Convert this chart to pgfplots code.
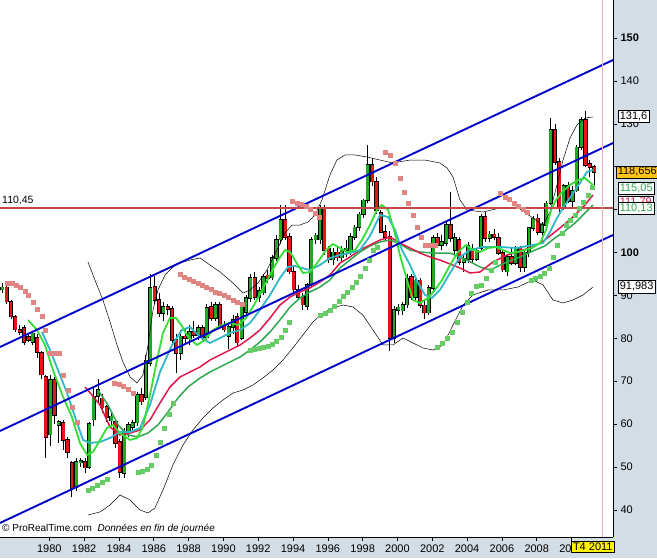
\documentclass[border=0pt]{standalone}
\usepackage{pgfplots}
\pgfplotsset{compat=1.18}
\usepackage{pgfplotstable}
\usepackage{fontspec}
\setmainfont{Liberation Sans}
\definecolor{panel}{HTML}{D3DDE6}
\definecolor{chan}{HTML}{0000CC}
\definecolor{hline}{HTML}{C44848}
\definecolor{cgreen}{HTML}{22A822}
\definecolor{cred}{HTML}{E01818}
\definecolor{malg}{HTML}{33E033}
\definecolor{macy}{HTML}{30B8C8}
\definecolor{mared}{HTML}{E0184A}
\definecolor{madg}{HTML}{30A850}
\definecolor{sarp}{HTML}{E08484}
\definecolor{sarg}{HTML}{66CC66}
\definecolor{orangebox}{HTML}{FFC41C}
\definecolor{vline}{HTML}{F0B0B8}

\pgfplotstableread{
x o h l c
1977.30 91.3 93.0 90.5 91.9
1977.55 91.9 93.2 88.0 88.5
1977.80 88.5 89.0 84.5 85.0
1978.05 85.0 85.5 81.5 82.0
1978.30 82.0 83.0 80.8 81.5
1978.55 82.4 83.0 78.5 79.1
1978.80 80.3 81.0 79.2 79.6
1979.05 79.1 81.8 78.5 81.2
1979.30 80.1 81.0 75.5 76.8
1979.55 76.6 77.0 70.5 71.5
1979.80 71.0 71.5 52.1 57.0
1980.05 57.5 71.5 55.0 70.3
1980.30 70.3 71.0 60.0 62.1
1980.55 59.8 61.0 55.6 60.5
1980.80 60.3 61.0 54.0 56.3
1981.05 56.3 57.0 52.0 53.5
1981.30 50.9 51.5 43.0 45.1
1981.55 45.3 52.0 44.5 51.2
1981.80 51.0 52.0 50.0 51.5
1982.05 51.2 52.0 48.5 49.8
1982.30 50.0 60.5 49.5 60.0
1982.55 61.0 68.5 59.5 66.5
1982.80 66.5 70.5 65.0 68.0
1983.05 66.0 67.0 62.5 63.8
1983.30 64.0 64.5 60.5 61.6
1983.55 60.8 62.5 59.5 61.8
1983.80 60.5 61.0 54.5 55.6
1984.05 55.8 56.5 47.5 48.8
1984.30 48.6 59.0 47.5 58.2
1984.55 58.0 60.5 57.0 59.8
1984.80 59.3 61.0 58.5 60.3
1985.05 60.3 67.5 59.5 66.8
1985.30 66.8 68.5 64.5 65.2
1985.55 66.3 76.0 65.5 74.9
1985.80 74.2 95.0 73.5 91.7
1986.05 92.0 94.5 88.0 88.9
1986.30 88.9 90.5 85.0 85.9
1986.55 85.9 88.5 84.0 87.3
1986.80 87.3 88.0 85.5 86.8
1987.05 86.8 87.5 79.0 79.6
1987.30 79.6 81.0 72.0 76.5
1987.55 76.5 82.0 75.0 80.5
1987.80 80.5 82.5 79.0 80.0
1988.05 80.0 83.0 78.5 81.5
1988.30 81.5 84.0 80.0 80.8
1988.55 80.8 83.0 79.5 82.5
1988.80 82.5 83.0 79.5 80.3
1989.05 80.3 88.0 79.5 87.1
1989.30 87.3 88.5 84.0 84.7
1989.55 84.7 88.5 84.0 87.8
1989.80 87.8 88.5 82.5 83.1
1990.05 83.1 84.0 81.5 82.0
1990.30 80.5 83.5 77.5 82.6
1990.55 82.6 85.5 81.0 84.3
1990.80 85.0 86.0 78.0 79.0
1991.05 80.0 88.5 79.5 87.8
1991.30 86.1 90.0 85.5 89.4
1991.55 89.4 95.0 88.5 94.1
1991.80 94.1 95.5 89.0 89.6
1992.05 89.6 92.0 88.5 91.0
1992.30 90.6 95.0 90.0 94.3
1992.55 94.7 96.0 93.0 94.0
1992.80 94.1 99.5 93.5 98.7
1993.05 98.7 104.0 98.0 103.0
1993.30 103.0 111.0 102.0 107.6
1993.55 107.6 111.0 103.0 103.6
1993.80 103.6 104.5 95.0 95.5
1994.05 95.5 97.0 90.5 91.3
1994.30 91.3 92.5 89.0 89.6
1994.55 89.6 90.5 86.5 87.8
1994.80 87.5 93.0 86.5 92.5
1995.05 92.5 103.5 92.0 103.0
1995.30 103.0 104.5 102.0 104.0
1995.55 103.0 111.0 102.0 110.4
1995.80 110.4 111.0 99.5 100.6
1996.05 101.0 101.5 97.5 98.3
1996.30 98.3 101.0 97.0 100.0
1996.55 100.0 101.5 98.0 98.8
1996.80 98.8 101.5 97.5 100.5
1997.05 100.5 103.0 99.0 101.0
1997.30 100.0 104.5 99.5 103.6
1997.55 103.6 106.5 103.0 105.9
1997.80 105.9 109.5 105.0 108.9
1998.05 108.9 112.5 108.0 112.2
1998.30 112.2 125.0 111.5 120.4
1998.55 120.4 122.0 115.5 116.5
1998.80 116.5 117.5 109.0 109.8
1999.05 109.3 110.0 104.5 104.8
1999.30 104.8 106.5 103.0 103.6
1999.55 103.6 105.0 77.0 80.1
1999.80 80.1 87.5 79.0 86.6
2000.05 86.6 88.0 85.5 87.2
2000.30 86.4 88.5 85.5 87.8
2000.55 87.8 95.0 87.0 93.8
2000.80 94.3 95.0 89.0 89.6
2001.05 89.6 94.5 89.0 93.5
2001.30 93.5 94.0 87.0 87.7
2001.55 87.7 89.0 84.5 86.0
2001.80 86.0 92.5 85.5 91.7
2002.05 91.7 104.0 91.0 103.4
2002.30 103.4 104.5 101.0 101.7
2002.55 101.7 104.0 100.5 102.5
2002.80 102.2 107.0 101.5 106.4
2003.05 106.4 114.0 102.5 103.4
2003.30 100.6 104.5 99.5 103.4
2003.55 102.9 103.5 97.0 97.8
2003.80 97.8 99.5 95.5 98.5
2004.05 98.5 102.5 97.5 101.7
2004.30 101.0 102.0 97.5 98.5
2004.55 98.5 101.0 98.0 100.5
2004.80 101.0 109.0 100.5 108.3
2005.05 108.3 109.5 102.5 103.4
2005.30 103.4 105.0 102.5 104.2
2005.55 104.2 105.5 102.8 103.6
2005.80 103.4 104.5 99.5 99.9
2006.05 99.9 100.5 95.5 96.0
2006.30 95.5 99.5 94.5 99.0
2006.55 99.0 101.0 97.0 97.5
2006.80 97.5 101.5 97.0 101.0
2007.05 101.0 101.5 95.5 96.6
2007.30 96.6 100.5 95.5 100.0
2007.55 100.0 106.0 99.0 105.7
2007.80 105.7 108.5 105.0 108.0
2008.05 108.0 109.0 104.0 104.8
2008.30 104.8 107.0 103.5 106.4
2008.55 106.4 112.0 105.5 111.5
2008.80 111.5 131.4 111.0 128.6
2009.05 128.6 130.0 120.5 121.1
2009.30 121.1 122.0 109.5 110.6
2009.55 110.6 116.0 110.0 115.5
2009.80 115.5 116.5 111.5 112.0
2010.05 112.0 115.5 110.5 114.4
2010.30 114.4 125.0 114.0 124.5
2010.55 124.5 131.5 124.0 130.9
2010.80 130.9 133.0 120.0 120.4
2011.05 120.7 121.5 117.5 119.9
2011.30 119.9 120.5 115.5 118.7
}\candles

\begin{document}
\begin{tikzpicture}
\fill[panel] (0,0) rectangle (657pt,558pt);
\begin{axis}[
  at={(0pt,21pt)}, anchor=south west,
  width=613pt, height=537pt, scale only axis,
  xmin=1977.168, xmax=2012.38, ymin=33.68, ymax=158.86,
  axis x line*=bottom, axis y line*=right,
  axis line style={black, line width=0.9pt},
  axis background/.style={fill=white},
  xtick={1980,1982,...,2010},
  xticklabels={1980,1982,1984,1986,1988,1990,1992,1994,1996,1998,2000,2002,2004,2006,2008,2010},
  ytick={40,50,...,150},
  yticklabels={40,50,60,70,80,90,\textbf{100},{},{},130,140,\textbf{150}},
  tick align=outside, major tick length=4pt,
  tick style={black, line width=0.6pt},
  tick label style={font=\fontsize{11}{13}\selectfont, text=black},
]
% candle wicks
\addplot[draw=none, mark=none, forget plot,
  error bars/.cd, y dir=plus, y explicit, error mark=none,
  error bar style={draw=black, line width=0.9pt}]
  table[x=x, y=l, y error plus expr=\thisrow{h}-\thisrow{l}] {\candles};
% green bodies
\addplot[draw=none, mark=none, forget plot,
  restrict expr to domain={\thisrow{c}-\thisrow{o}}{0:1000},
  error bars/.cd, y dir=plus, y explicit, error mark=none,
  error bar style={draw=black, line width=4.2pt}]
  table[x=x, y expr=\thisrow{o}-0.15, y error plus expr=\thisrow{c}-\thisrow{o}+0.3] {\candles};
\addplot[draw=none, mark=none, forget plot,
  restrict expr to domain={\thisrow{c}-\thisrow{o}}{0:1000},
  error bars/.cd, y dir=plus, y explicit, error mark=none,
  error bar style={draw=cgreen, line width=2.8pt}]
  table[x=x, y=o, y error plus expr=\thisrow{c}-\thisrow{o}] {\candles};
% red bodies
\addplot[draw=none, mark=none, forget plot,
  restrict expr to domain={\thisrow{o}-\thisrow{c}}{0.0001:1000},
  error bars/.cd, y dir=plus, y explicit, error mark=none,
  error bar style={draw=black, line width=4.2pt}]
  table[x=x, y expr=\thisrow{c}-0.15, y error plus expr=\thisrow{o}-\thisrow{c}+0.3] {\candles};
\addplot[draw=none, mark=none, forget plot,
  restrict expr to domain={\thisrow{o}-\thisrow{c}}{0.0001:1000},
  error bars/.cd, y dir=plus, y explicit, error mark=none,
  error bar style={draw=cred, line width=2.8pt}]
  table[x=x, y=c, y error plus expr=\thisrow{o}-\thisrow{c}] {\candles};

% Bollinger upper
\addplot[black, line width=0.5pt] table {
1982.22 97.79
1982.62 93.59
1983.08 88.93
1983.49 83.80
1983.89 78.44
1984.23 74.48
1984.64 70.98
1985.04 69.58
1985.38 71.45
1985.67 78.44
1985.96 86.60
1986.24 91.26
1986.65 94.76
1987.10 96.62
1987.51 97.55
1988.08 98.25
1988.66 98.72
1989.23 97.09
1989.81 95.46
1990.55 92.89
1991.13 90.56
1991.53 91.26
1991.99 92.89
1992.50 95.92
1993.08 100.58
1993.54 104.55
1993.94 106.41
1994.40 106.41
1994.86 107.11
1995.26 108.74
1995.66 112.24
1996.12 118.07
1996.52 121.56
1996.98 122.73
1997.56 122.73
1998.25 122.26
1998.99 121.56
1999.74 120.86
2000.72 121.56
2001.58 121.56
2002.44 120.86
2002.85 119.70
2003.19 117.60
2003.59 112.24
2003.99 109.91
2004.91 109.44
2005.89 110.37
2006.87 110.61
2007.78 108.04
2008.36 106.41
2008.76 109.44
2009.16 115.73
2009.51 121.56
2009.91 126.69
2010.31 129.72
2010.77 131.35
2011.23 131.59
};
% Bollinger lower
\addplot[black, line width=0.5pt] table {
1982.22 38.81
1982.91 39.51
1983.49 41.15
1984.06 43.47
1984.64 42.31
1985.21 39.98
1985.67 39.28
1986.07 40.44
1986.53 44.64
1987.10 50.47
1987.68 55.13
1988.25 58.63
1988.83 61.42
1989.40 63.76
1989.98 65.62
1990.55 67.25
1991.13 67.95
1991.70 69.12
1992.27 70.75
1992.85 72.61
1993.42 74.94
1993.99 77.74
1994.57 80.77
1995.14 83.80
1995.72 85.90
1996.29 87.07
1996.87 87.76
1997.44 87.30
1998.01 85.43
1998.59 81.94
1999.17 78.44
1999.74 78.44
2000.32 80.07
2000.89 78.91
2001.47 77.74
2002.04 77.27
2002.62 78.44
2003.19 83.10
2003.77 87.76
2004.34 90.10
2005.20 91.26
2006.06 91.26
2006.92 91.96
2007.78 93.59
2008.36 92.43
2008.93 88.93
2009.51 88.23
2010.08 88.93
2010.66 90.10
2011.23 91.96
};

% Parabolic SAR (above price)
\addplot[only marks, mark=square*, mark size=1.9pt, color=sarp] table {
1977.57 92.89
1977.86 92.89
1978.09 92.43
1978.32 91.96
1978.60 91.03
1978.78 90.09
1979.06 88.46
1979.29 86.83
1979.58 85.20
1979.75 81.94
1980.04 76.58
1980.33 76.58
1980.56 76.58
1980.79 71.45
1981.07 67.95
1981.30 64.00
1981.59 60.49
1983.72 69.58
1984.00 69.35
1984.23 68.88
1984.52 68.18
1984.81 67.25
1987.51 95.00
1987.74 94.29
1988.02 93.82
1988.25 93.36
1988.54 92.89
1988.77 92.43
1989.00 91.96
1989.29 91.49
1989.52 90.79
1989.75 90.56
1990.03 90.09
1990.26 89.63
1990.55 88.93
1990.78 88.46
1991.07 88.00
1993.94 112.00
1994.23 111.54
1994.46 111.30
1994.74 110.84
1994.97 110.14
1995.26 109.21
1995.49 108.28
1999.30 123.43
1999.59 122.73
1999.87 120.86
2000.16 117.37
2000.39 114.10
2000.62 111.54
2000.91 108.74
2001.14 105.95
2001.37 103.60
2001.59 101.75
2001.88 101.75
2002.17 101.75
2005.89 113.87
2006.18 112.94
2006.41 112.47
2006.70 111.54
2006.93 110.84
2007.21 110.14
2007.44 109.44
};
% Parabolic SAR (below price)
\addplot[only marks, mark=square*, mark size=1.9pt, color=sarg] table {
1982.22 44.64
1982.45 45.11
1982.74 45.80
1983.03 46.50
1983.31 47.20
1985.09 48.84
1985.32 49.07
1985.61 49.54
1985.84 50.47
1986.13 52.80
1986.36 55.83
1986.59 59.09
1986.88 62.36
1987.10 64.92
1991.53 77.27
1991.76 77.51
1992.05 77.74
1992.28 77.97
1992.56 78.21
1992.79 78.67
1993.02 79.37
1993.31 80.31
1993.54 81.94
1993.77 83.80
1995.55 85.43
1995.84 85.90
1996.12 86.60
1996.35 87.53
1996.64 88.70
1996.87 89.86
1997.10 90.79
1997.39 91.96
1997.62 93.13
1997.85 94.52
1998.13 96.39
1998.36 98.25
1998.59 100.58
1998.82 101.28
2002.27 77.97
2002.56 78.90
2002.85 80.07
2003.13 81.47
2003.42 83.80
2003.71 86.13
2004.00 88.46
2004.22 90.56
2004.51 92.19
2004.80 92.43
2005.09 94.06
2005.37 95.93
2005.60 97.79
2007.67 93.59
2007.90 94.06
2008.19 94.52
2008.42 95.22
2008.70 96.39
2008.93 98.95
2009.16 101.75
2009.45 104.55
2009.68 106.41
2009.91 107.58
2010.20 108.74
2010.43 110.37
2010.66 111.77
2010.94 113.40
2011.17 115.27
};

% dark green MA
\addplot[madg, line width=1.5pt] table {
1982.80 67.95
1983.37 64.45
1983.95 59.79
1984.52 57.46
1985.09 57.00
1985.67 57.93
1986.24 59.79
1986.82 62.82
1987.39 66.09
1987.97 68.65
1988.66 70.75
1989.23 72.15
1989.81 73.31
1990.38 74.48
1990.96 75.64
1991.53 77.27
1992.10 79.14
1992.68 81.47
1993.25 84.27
1993.83 87.30
1994.40 89.40
1994.97 90.80
1995.55 91.96
1996.12 93.59
1996.70 96.39
1997.27 98.25
1997.85 100.12
1998.42 101.52
1999.00 102.45
1999.57 102.92
2000.14 101.98
2000.72 100.58
2001.29 100.12
2002.04 99.88
2003.02 99.88
2003.99 98.25
2004.74 96.62
2005.31 95.92
2006.29 97.79
2007.04 98.95
2007.78 100.35
2008.47 101.52
2009.04 103.38
2009.62 105.01
2010.20 106.88
2010.77 109.21
2011.23 111.07
};
% red MA
\addplot[mared, line width=1.5pt] table {
1982.05 68.65
1982.45 66.78
1982.91 64.45
1983.49 59.33
1984.06 57.46
1984.64 57.92
1985.21 58.63
1985.78 60.96
1986.36 64.92
1986.93 68.65
1987.51 70.98
1988.08 72.15
1988.66 73.31
1989.23 74.94
1989.81 76.11
1990.38 77.27
1990.96 78.44
1991.53 80.07
1992.10 81.94
1992.68 84.73
1993.25 87.76
1993.83 89.63
1994.40 90.80
1994.97 91.73
1995.55 93.13
1996.12 94.76
1996.70 97.55
1997.27 98.95
1997.85 100.58
1998.42 101.75
1999.00 102.92
1999.57 103.61
2000.14 102.22
2000.72 101.05
2001.29 99.88
2001.87 98.95
2002.44 98.25
2003.02 97.32
2003.59 96.39
2004.17 95.22
2004.74 95.46
2005.49 97.79
2006.29 99.42
2007.04 100.35
2007.78 101.28
2008.47 102.92
2009.04 104.78
2009.62 106.65
2010.20 108.74
2010.77 111.07
2011.23 113.41
};
% cyan MA
\addplot[macy, line width=1.8pt] table {
1979.58 81.47
1980.04 77.27
1980.50 72.61
1981.02 67.25
1981.48 61.65
1981.94 56.30
1982.34 55.60
1982.91 55.83
1983.49 56.76
1984.06 58.16
1984.64 58.16
1985.21 59.09
1985.78 64.45
1986.36 72.15
1987.05 78.44
1987.62 81.94
1988.08 82.64
1988.66 80.31
1989.23 78.91
1989.81 80.07
1990.38 81.24
1990.96 81.94
1991.53 83.57
1992.10 86.60
1992.68 90.10
1993.25 94.06
1993.71 96.62
1994.11 96.86
1994.52 96.39
1994.97 95.92
1995.55 97.09
1996.12 98.72
1996.70 99.42
1997.27 99.88
1997.85 100.58
1998.42 103.85
1999.00 108.74
1999.46 108.28
1999.86 105.25
2000.26 100.58
2000.72 97.09
2001.18 92.89
2001.58 90.10
2001.98 89.40
2002.44 91.26
2003.02 95.22
2003.59 98.95
2004.17 100.58
2004.91 101.28
2005.89 101.28
2006.87 101.05
2007.78 101.75
2008.36 102.22
2008.76 104.78
2009.16 108.04
2009.62 111.07
2010.02 113.41
2010.48 116.20
2010.88 118.77
2011.23 119.23
};
% light green MA
\addplot[malg, line width=1.8pt] table {
1978.78 84.27
1979.29 81.94
1979.75 78.44
1980.21 72.61
1980.79 66.32
1981.30 61.65
1981.76 55.60
1982.17 52.80
1982.51 53.50
1982.91 56.30
1983.31 59.09
1983.66 59.79
1984.06 57.92
1984.64 56.30
1985.04 56.76
1985.38 59.33
1985.78 66.78
1986.19 74.94
1986.53 81.24
1986.93 84.73
1987.28 84.73
1987.62 82.87
1987.97 80.31
1988.48 78.44
1988.94 79.61
1989.40 81.94
1989.92 83.10
1990.38 83.57
1990.84 83.10
1991.30 84.73
1991.76 87.76
1992.22 91.26
1992.68 94.76
1993.14 98.25
1993.54 100.58
1993.83 100.12
1994.17 97.79
1994.57 95.22
1994.97 95.46
1995.43 97.79
1995.89 100.58
1996.30 101.98
1996.70 101.05
1997.10 100.12
1997.56 100.58
1997.96 102.92
1998.42 106.41
1998.82 109.91
1999.11 111.07
1999.46 109.91
1999.80 105.25
2000.14 99.42
2000.55 93.59
2000.89 88.93
2001.29 88.23
2001.75 89.40
2002.15 91.26
2002.56 93.59
2003.02 97.09
2003.48 100.12
2003.94 101.75
2004.34 100.58
2004.74 100.12
2005.20 101.05
2005.66 101.28
2006.06 100.58
2006.46 99.88
2006.92 100.12
2007.32 100.58
2007.73 101.05
2008.19 102.22
2008.53 105.25
2008.82 109.91
2009.11 112.24
2009.45 114.10
2009.91 115.73
2010.37 116.90
2010.77 117.37
2011.23 115.73
};

% regression channel
\addplot[chan, line width=1.9pt] coordinates {(1977.168,77.97) (2012.38,144.87)};
\addplot[chan, line width=1.9pt] coordinates {(1977.168,58.39) (2012.38,125.52)};
\addplot[chan, line width=1.9pt] coordinates {(1977.168,36.95) (2012.38,104.08)};
% horizontal level
\addplot[hline, line width=1.8pt] coordinates {(1977.168,110.45) (2012.38,110.45)};
% current date marker
\addplot[vline, line width=0.8pt] coordinates {(2011.75,33.68) (2011.75,158.86)};

\node[anchor=south west, inner sep=0pt, font=\fontsize{10.5}{12}\selectfont] at ([xshift=2pt,yshift=2.5pt]axis cs:1977.168,110.45) {110,45};
\node[anchor=south west, inner sep=0pt, font=\fontsize{10}{12}\selectfont] at ([xshift=2pt,yshift=3pt]rel axis cs:0,0) {© ProRealTime.com\ \ \textit{Données en fin de journée}};

\coordinate (lab1) at (axis cs:2012.38,131.8);
\coordinate (lab2) at (axis cs:2012.38,118.8);
\coordinate (lab3) at (axis cs:2012.38,114.97);
\coordinate (lab4) at (axis cs:2012.38,111.7);
\coordinate (lab5) at (axis cs:2012.38,110.2);
\coordinate (lab6) at (axis cs:2012.38,92.0);
\coordinate (t4) at (axis cs:2009.98,33.68);
\end{axis}
\tikzset{vbox/.style={anchor=west, draw=black, fill=white, line width=0.6pt, inner xsep=1.5pt, inner ysep=1.5pt, font=\fontsize{11}{13}\selectfont}}
\node[vbox] at ([xshift=5pt]lab1) {131,6};
\node[vbox, text=mared] at ([xshift=5pt]lab4) {111,79};
\node[vbox, text=madg] at ([xshift=5pt]lab5) {110,13};
\node[vbox, text=madg] at ([xshift=5pt]lab3) {115,05};
\node[vbox, fill=orangebox] at ([xshift=3pt]lab2) {118,6560};
\node[vbox] at ([xshift=5pt]lab6) {91,983};
\node[anchor=north west, draw=black, fill=yellow, line width=0.6pt, inner xsep=1.5pt, inner ysep=1.5pt, font=\fontsize{11}{13}\selectfont] at ([yshift=-4pt]t4) {T4 2011};
\pgfresetboundingbox
\path[use as bounding box] (0,0) rectangle (657pt,558pt);
\end{tikzpicture}
\end{document}
